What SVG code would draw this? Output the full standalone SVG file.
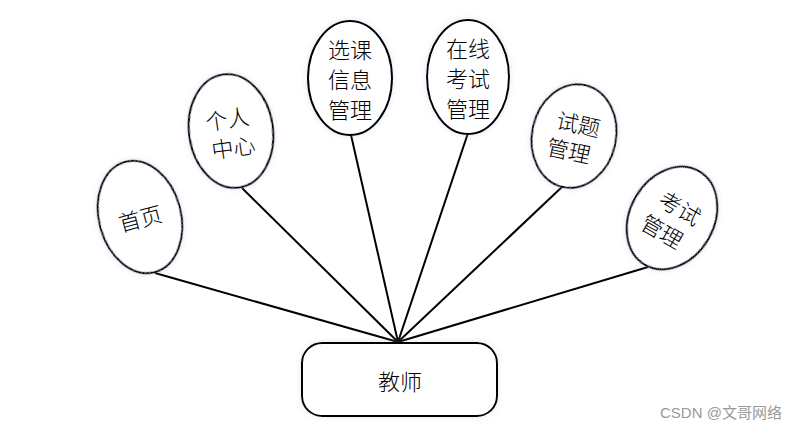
<svg xmlns="http://www.w3.org/2000/svg" width="811" height="431" viewBox="0 0 811 431">
<defs>
<filter id="sh" x="-20%" y="-20%" width="140%" height="140%">
<feDropShadow dx="0" dy="0" stdDeviation="3" flood-color="#9fb8e0" flood-opacity="0.35"/>
</filter>
</defs>
<style>
.n{fill:#fff;stroke:#000;stroke-width:2;filter:url(#sh)}
.t{font-family:"Noto Sans CJK SC","Liberation Sans",sans-serif;font-size:22px;font-weight:300;fill:#000;text-anchor:middle;dominant-baseline:central}
.c line{stroke:#000;stroke-width:2}
.wm{font-family:"Liberation Sans","Noto Sans CJK SC",sans-serif;font-size:15px;fill:#999}
</style>
<rect width="811" height="431" fill="#fff"/>
<g class="c" id="connectors">
<line x1="155" y1="273" x2="398" y2="342"/>
<line x1="242" y1="188" x2="398" y2="342"/>
<line x1="351" y1="135" x2="398" y2="342"/>
<line x1="468" y1="133" x2="398" y2="342"/>
<line x1="563" y1="186" x2="398" y2="342"/>
<line x1="648" y1="267" x2="398" y2="342"/>
</g>
<g id="n1" transform="translate(140,217) rotate(-15)">
<ellipse class="n" rx="41" ry="57"/>
<text class="t" x="0" y="0">首页</text>
</g>
<g id="n2" transform="translate(231,131) rotate(-8)">
<ellipse class="n" rx="42" ry="57"/>
<text class="t" x="-2" y="-14">个人</text>
<text class="t" x="0" y="15">中心</text>
</g>
<g id="n3" transform="translate(350,78)">
<ellipse class="n" rx="42" ry="57"/>
<text class="t" x="0" y="-30">选课</text>
<text class="t" x="0" y="0">信息</text>
<text class="t" x="0" y="30">管理</text>
</g>
<g id="n4" transform="translate(468,77)">
<ellipse class="n" rx="41" ry="57"/>
<text class="t" x="0" y="-30">在线</text>
<text class="t" x="0" y="0">考试</text>
<text class="t" x="0" y="30">管理</text>
</g>
<g id="n5" transform="translate(574,136) rotate(12)">
<ellipse class="n" rx="42" ry="52"/>
<text class="t" x="2" y="-14">试题</text>
<text class="t" x="-2" y="14">管理</text>
</g>
<g id="n6" transform="translate(672,218) rotate(30)">
<ellipse class="n" rx="42" ry="54"/>
<text class="t" x="2" y="-14">考试</text>
<text class="t" x="-2" y="15">管理</text>
</g>
<g id="n7">
<rect class="n" x="302" y="343" width="195" height="73" rx="20" ry="20"/>
<text class="t" x="400" y="380">教师</text>
</g>
<text class="wm" x="660" y="418">CSDN @文哥网络</text>
</svg>
